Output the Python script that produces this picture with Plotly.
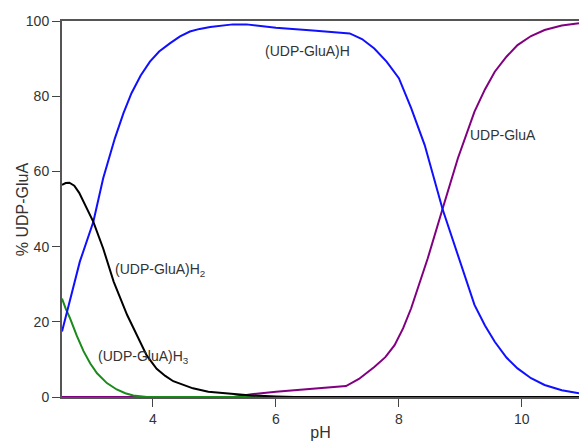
import plotly.graph_objects as go

# (UDP-GluA)H  (blue)
ph_h = [2.52, 2.62, 2.81, 3.03, 3.19, 3.38, 3.52, 3.65, 3.80, 3.95, 4.10, 4.28, 4.44, 4.60,
        4.76, 4.93, 5.10, 5.30, 5.52, 6.0, 6.6, 7.2, 7.4, 7.6, 7.8, 8.0, 8.2, 8.42, 8.71,
        8.96, 9.23, 9.40, 9.56, 9.75, 9.93, 10.15, 10.37, 10.65, 10.93]
y_h = [17.4, 23.7, 36.0, 46.6, 58.2, 68.8, 75.5, 80.8, 85.5, 89.2, 91.9, 94.1, 95.9, 97.2,
       97.9, 98.4, 98.8, 99.1, 99.1, 98.2, 97.5, 96.7, 95.2, 92.7, 89.2, 84.8, 76.8, 67.0, 50.0,
       37.8, 24.5, 19.0, 14.7, 10.5, 7.6, 5.0, 3.2, 1.8, 1.0]

# UDP-GluA (purple)
ph_a = [2.52, 5.3, 5.63, 6.0, 7.14, 7.35, 7.6, 7.78, 7.93, 8.07, 8.2, 8.47, 8.71, 8.96,
        9.23, 9.40, 9.56, 9.75, 9.93, 10.15, 10.37, 10.65, 10.93]
y_a = [0, 0, 0.8, 1.4, 2.9, 4.8, 8.0, 10.6, 13.8, 18.3, 23.6, 36.9, 50.0, 63.5,
       75.9, 81.8, 86.5, 90.5, 93.6, 96.0, 97.6, 98.8, 99.4]

# (UDP-GluA)H2 (black)
ph_h2 = [2.52, 2.58, 2.64, 2.72, 2.80, 2.87, 3.03, 3.19, 3.36, 3.58, 3.79, 3.9, 4.06, 4.2,
         4.33, 4.5, 4.65, 4.9, 5.25, 5.6, 6.0, 6.3, 10.93]
y_h2 = [56.4, 56.9, 57.0, 56.2, 54.3, 52.0, 46.6, 39.5, 30.7, 21.8, 14.8, 11.0, 7.5, 5.6,
        4.2, 3.1, 2.3, 1.4, 0.8, 0.4, 0.15, 0, 0]

# (UDP-GluA)H3 (green)
ph_h3 = [2.52, 2.58, 2.65, 2.76, 2.87, 2.98, 3.09, 3.25, 3.41, 3.55, 3.68, 3.8, 3.9, 10.93]
y_h3 = [26.2, 23.5, 21.0, 16.3, 12.2, 8.9, 6.3, 3.7, 2.0, 1.0, 0.4, 0.1, 0, 0]

labels = ["(UDP-GluA)H", "UDP-GluA", "(UDP-GluA)H<sub>2</sub>", "(UDP-GluA)H<sub>3</sub>"]
label_x = [6.51, 9.70, 4.11, 3.84]
label_y = [91.9, 69.7, 33.8, 10.6]

FONT = "Arial, Liberation Sans, sans-serif"
fig = go.Figure()
fig.add_trace(go.Scatter(x=ph_a, y=y_a, mode="lines", line=dict(color="#800080", width=2)))
fig.add_trace(go.Scatter(x=ph_h3, y=y_h3, mode="lines", line=dict(color="#1a8a1a", width=2)))
fig.add_trace(go.Scatter(x=ph_h, y=y_h, mode="lines", line=dict(color="#1010ff", width=2)))
fig.add_trace(go.Scatter(x=ph_h2, y=y_h2, mode="lines", line=dict(color="#000000", width=2)))

for t, x, y in zip(labels, label_x, label_y):
    fig.add_annotation(x=x, y=y, text=t, showarrow=False,
                       font=dict(family=FONT, size=14, color="#333333"))

# y-axis title placed as rotated annotation
fig.add_annotation(xref="paper", yref="paper", x=-0.077, y=0.5, text="% UDP-GluA",
                   textangle=-90, showarrow=False, xanchor="center", yanchor="middle",
                   font=dict(family=FONT, size=16, color="#333333"))

fig.update_layout(
    width=579, height=441,
    margin=dict(l=62, r=0, t=21, b=44),
    paper_bgcolor="white", plot_bgcolor="white",
    showlegend=False,
    font=dict(family=FONT, size=14, color="#333333"),
)
fig.update_xaxes(range=[2.52, 10.93], tickvals=[4, 6, 8, 10], ticks="outside", ticklen=8,
                 showgrid=False, zeroline=False, showline=True, linecolor="#555555", linewidth=2,
                 mirror=True,
                 title=dict(text="pH", font=dict(size=16), standoff=2))
fig.update_yaxes(range=[0, 100], tickvals=[0, 20, 40, 60, 80, 100], ticks="outside", ticklen=8,
                 showgrid=False, zeroline=False, showline=True, linecolor="#555555", linewidth=2)

fig.write_html("out.html", config={"displayModeBar": False},
               post_script="document.body.style.margin='0';document.body.style.overflow='hidden';")
